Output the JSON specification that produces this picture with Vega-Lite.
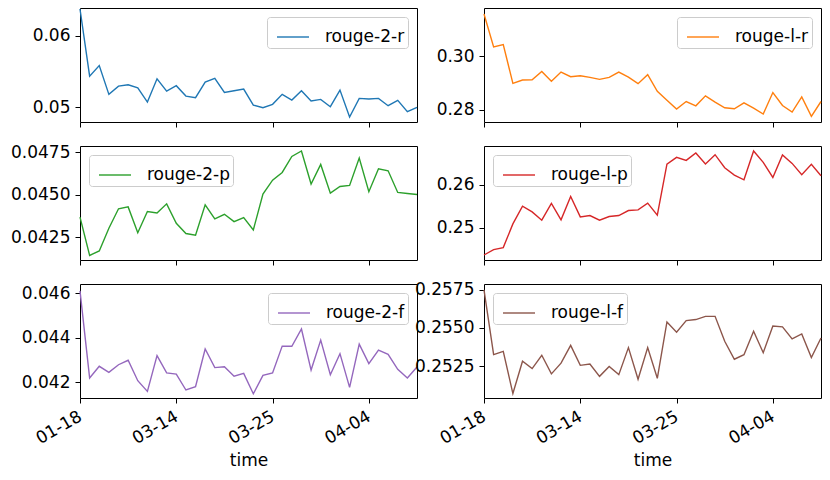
{
  "$schema": "https://vega.github.io/schema/vega-lite/v6.json",
  "autosize": "pad",
  "padding": {"left": 10, "top": 5, "right": 5, "bottom": 5},
  "background": "white",
  "bounds": "flush",
  "columns": 2,
  "spacing": {"row": 24, "column": 67},
  "data": {"values": [
    {"time": "01-18", "r2r": 0.0637, "rlr": 0.3158, "r2p": 0.04369, "rlp": 0.24359, "r2f": 0.04611, "rlf": 0.2575},
    {"time": "01-25", "r2r": 0.05435, "rlr": 0.30346, "r2p": 0.04145, "rlp": 0.24484, "r2f": 0.04218, "rlf": 0.25325},
    {"time": "02-01", "r2r": 0.05583, "rlr": 0.30432, "r2p": 0.04171, "rlp": 0.24531, "r2f": 0.04271, "rlf": 0.25347},
    {"time": "02-08", "r2r": 0.05181, "rlr": 0.28988, "r2p": 0.04304, "rlp": 0.25086, "r2f": 0.04244, "rlf": 0.2507},
    {"time": "02-15", "r2r": 0.05296, "rlr": 0.29111, "r2p": 0.04418, "rlp": 0.255, "r2f": 0.04278, "rlf": 0.25282},
    {"time": "02-22", "r2r": 0.05315, "rlr": 0.29123, "r2p": 0.04429, "rlp": 0.25367, "r2f": 0.04298, "rlf": 0.25234},
    {"time": "03-01", "r2r": 0.05273, "rlr": 0.29432, "r2p": 0.04278, "rlp": 0.25172, "r2f": 0.04206, "rlf": 0.25321},
    {"time": "03-05", "r2r": 0.05074, "rlr": 0.29062, "r2p": 0.04402, "rlp": 0.25563, "r2f": 0.04158, "rlf": 0.25199},
    {"time": "03-08", "r2r": 0.05398, "rlr": 0.29407, "r2p": 0.04394, "rlp": 0.2518, "r2f": 0.04319, "rlf": 0.25269},
    {"time": "03-11", "r2r": 0.05227, "rlr": 0.29235, "r2p": 0.04447, "rlp": 0.25727, "r2f": 0.04241, "rlf": 0.25386},
    {"time": "03-14", "r2r": 0.05301, "rlr": 0.29272, "r2p": 0.04333, "rlp": 0.2525, "r2f": 0.04236, "rlf": 0.25255},
    {"time": "03-15", "r2r": 0.05157, "rlr": 0.2921, "r2p": 0.04273, "rlp": 0.25281, "r2f": 0.04164, "rlf": 0.25264},
    {"time": "03-16", "r2r": 0.05134, "rlr": 0.29136, "r2p": 0.04263, "rlp": 0.25172, "r2f": 0.04179, "rlf": 0.25183},
    {"time": "03-17", "r2r": 0.05352, "rlr": 0.2921, "r2p": 0.04441, "rlp": 0.25258, "r2f": 0.04349, "rlf": 0.25247},
    {"time": "03-18", "r2r": 0.05403, "rlr": 0.29407, "r2p": 0.04359, "rlp": 0.25281, "r2f": 0.04265, "rlf": 0.25194},
    {"time": "03-19", "r2r": 0.05208, "rlr": 0.29222, "r2p": 0.04386, "rlp": 0.25398, "r2f": 0.04269, "rlf": 0.25371},
    {"time": "03-20", "r2r": 0.05231, "rlr": 0.28975, "r2p": 0.04343, "rlp": 0.25414, "r2f": 0.04226, "rlf": 0.25164},
    {"time": "03-21", "r2r": 0.05255, "rlr": 0.29309, "r2p": 0.04367, "rlp": 0.2557, "r2f": 0.04239, "rlf": 0.25371},
    {"time": "03-22", "r2r": 0.05032, "rlr": 0.2869, "r2p": 0.04294, "rlp": 0.25289, "r2f": 0.04147, "rlf": 0.2517},
    {"time": "03-23", "r2r": 0.04995, "rlr": 0.28358, "r2p": 0.04504, "rlp": 0.26484, "r2f": 0.0423, "rlf": 0.25539},
    {"time": "03-25", "r2r": 0.05042, "rlr": 0.28025, "r2p": 0.04586, "rlp": 0.26641, "r2f": 0.04241, "rlf": 0.25472},
    {"time": "03-26", "r2r": 0.05181, "rlr": 0.28309, "r2p": 0.04631, "rlp": 0.2657, "r2f": 0.04362, "rlf": 0.25548},
    {"time": "03-27", "r2r": 0.05102, "rlr": 0.28148, "r2p": 0.04725, "rlp": 0.26742, "r2f": 0.04361, "rlf": 0.25555},
    {"time": "03-28", "r2r": 0.05231, "rlr": 0.28519, "r2p": 0.04757, "rlp": 0.26484, "r2f": 0.04439, "rlf": 0.25576},
    {"time": "03-29", "r2r": 0.05088, "rlr": 0.28284, "r2p": 0.04563, "rlp": 0.26703, "r2f": 0.04254, "rlf": 0.25576},
    {"time": "03-30", "r2r": 0.05111, "rlr": 0.28074, "r2p": 0.04678, "rlp": 0.26398, "r2f": 0.04389, "rlf": 0.25413},
    {"time": "03-31", "r2r": 0.05009, "rlr": 0.28037, "r2p": 0.0451, "rlp": 0.26227, "r2f": 0.04233, "rlf": 0.25295},
    {"time": "04-01", "r2r": 0.05241, "rlr": 0.28259, "r2p": 0.04549, "rlp": 0.26117, "r2f": 0.04328, "rlf": 0.25325},
    {"time": "04-02", "r2r": 0.04866, "rlr": 0.28062, "r2p": 0.04555, "rlp": 0.26789, "r2f": 0.04176, "rlf": 0.25478},
    {"time": "04-03", "r2r": 0.05125, "rlr": 0.2784, "r2p": 0.04716, "rlp": 0.26523, "r2f": 0.04371, "rlf": 0.25338},
    {"time": "04-04", "r2r": 0.05116, "rlr": 0.28642, "r2p": 0.04518, "rlp": 0.26172, "r2f": 0.04283, "rlf": 0.25513},
    {"time": "04-05", "r2r": 0.05125, "rlr": 0.2816, "r2p": 0.04653, "rlp": 0.26695, "r2f": 0.04344, "rlf": 0.25507},
    {"time": "04-06", "r2r": 0.05023, "rlr": 0.27914, "r2p": 0.04641, "rlp": 0.265, "r2f": 0.04325, "rlf": 0.25428},
    {"time": "04-07", "r2r": 0.05097, "rlr": 0.28481, "r2p": 0.04514, "rlp": 0.26234, "r2f": 0.04257, "rlf": 0.25461},
    {"time": "04-08", "r2r": 0.0494, "rlr": 0.27753, "r2p": 0.04508, "rlp": 0.26477, "r2f": 0.04218, "rlf": 0.25306},
    {"time": "04-09", "r2r": 0.05, "rlr": 0.28309, "r2p": 0.04502, "rlp": 0.26211, "r2f": 0.04268, "rlf": 0.25434}
  ]},
  "resolve": {"scale": {"color": "independent", "y": "independent"}, "legend": {"color": "independent"}},
  "concat": [
    {
      "width": 337, "height": 114,
      "mark": {"type": "line", "strokeWidth": 1.4},
      "encoding": {
        "x": {"field": "time", "type": "ordinal", "scale": {"type": "point", "padding": 0}, "axis": {"values": ["01-18", "03-14", "03-25", "04-04"], "labels": false, "title": null}},
        "y": {"field": "r2r", "type": "quantitative", "scale": {"domain": [0.04796, 0.06384], "nice": false, "zero": false}, "axis": {"values": [0.05, 0.06], "format": ".2f", "title": null}},
        "color": {"datum": "rouge-2-r", "type": "nominal", "scale": {"range": ["#1f77b4"]}, "legend": {"title": null, "orient": "top-right"}}
      }
    },
    {
      "width": 337, "height": 114,
      "mark": {"type": "line", "strokeWidth": 1.4},
      "encoding": {
        "x": {"field": "time", "type": "ordinal", "scale": {"type": "point", "padding": 0}, "axis": {"values": ["01-18", "03-14", "03-25", "04-04"], "labels": false, "title": null}},
        "y": {"field": "rlr", "type": "quantitative", "scale": {"domain": [0.27543, 0.31802], "nice": false, "zero": false}, "axis": {"values": [0.28, 0.30], "format": ".2f", "title": null}},
        "color": {"datum": "rouge-l-r", "type": "nominal", "scale": {"range": ["#ff7f0e"]}, "legend": {"title": null, "orient": "top-right"}}
      }
    },
    {
      "width": 337, "height": 114,
      "mark": {"type": "line", "strokeWidth": 1.4},
      "encoding": {
        "x": {"field": "time", "type": "ordinal", "scale": {"type": "point", "padding": 0}, "axis": {"values": ["01-18", "03-14", "03-25", "04-04"], "labels": false, "title": null}},
        "y": {"field": "r2p", "type": "quantitative", "scale": {"domain": [0.04118, 0.04786], "nice": false, "zero": false}, "axis": {"values": [0.0425, 0.045, 0.0475], "format": ".4f", "title": null}},
        "color": {"datum": "rouge-2-p", "type": "nominal", "scale": {"range": ["#2ca02c"]}, "legend": {"title": null, "orient": "top-left"}}
      }
    },
    {
      "width": 337, "height": 114,
      "mark": {"type": "line", "strokeWidth": 1.4},
      "encoding": {
        "x": {"field": "time", "type": "ordinal", "scale": {"type": "point", "padding": 0}, "axis": {"values": ["01-18", "03-14", "03-25", "04-04"], "labels": false, "title": null}},
        "y": {"field": "rlp", "type": "quantitative", "scale": {"domain": [0.24242, 0.26906], "nice": false, "zero": false}, "axis": {"values": [0.25, 0.26], "format": ".2f", "title": null}},
        "color": {"datum": "rouge-l-p", "type": "nominal", "scale": {"range": ["#d62728"]}, "legend": {"title": null, "orient": "top-left"}}
      }
    },
    {
      "width": 337, "height": 114,
      "mark": {"type": "line", "strokeWidth": 1.4},
      "encoding": {
        "x": {"field": "time", "type": "ordinal", "scale": {"type": "point", "padding": 0}, "axis": {"values": ["01-18", "03-14", "03-25", "04-04"], "labelAngle": -30, "labelAlign": "right", "labelBaseline": "top", "labelOffset": -4, "labelPadding": 5, "title": "time", "titlePadding": 6}},
        "y": {"field": "r2f", "type": "quantitative", "scale": {"domain": [0.04128, 0.04642], "nice": false, "zero": false}, "axis": {"values": [0.042, 0.044, 0.046], "format": ".3f", "title": null}},
        "color": {"datum": "rouge-2-f", "type": "nominal", "scale": {"range": ["#9467bd"]}, "legend": {"title": null, "orient": "top-right"}}
      }
    },
    {
      "width": 337, "height": 114,
      "mark": {"type": "line", "strokeWidth": 1.4},
      "encoding": {
        "x": {"field": "time", "type": "ordinal", "scale": {"type": "point", "padding": 0}, "axis": {"values": ["01-18", "03-14", "03-25", "04-04"], "labelAngle": -30, "labelAlign": "right", "labelBaseline": "top", "labelOffset": -4, "labelPadding": 5, "title": "time", "titlePadding": 6}},
        "y": {"field": "rlf", "type": "quantitative", "scale": {"domain": [0.25041, 0.25788], "nice": false, "zero": false}, "axis": {"values": [0.2525, 0.255, 0.2575], "format": ".4f", "title": null}},
        "color": {"datum": "rouge-l-f", "type": "nominal", "scale": {"range": ["#8c564b"]}, "legend": {"title": null, "orient": "top-left"}}
      }
    }
  ],
  "config": {
    "font": "DejaVu Sans",
    "view": {"stroke": "black", "strokeWidth": 1},
    "axis": {
      "domain": false, "grid": false,
      "tickColor": "black", "tickSize": 5, "tickWidth": 1,
      "labelFont": "DejaVu Sans", "labelFontSize": 17, "labelColor": "black", "labelPadding": 5,
      "titleFont": "DejaVu Sans", "titleFontSize": 17, "titleFontWeight": "normal", "titleColor": "black"
    },
    "legend": {
      "padding": 3, "offset": 9, "fillColor": "white", "strokeColor": "#cccccc", "cornerRadius": 3,
      "symbolType": "stroke", "symbolSize": 1024, "symbolStrokeWidth": 1.4, "symbolOffset": 6,
      "labelFont": "DejaVu Sans", "labelFontSize": 17, "labelColor": "black", "labelOffset": 15,
      "labelExpr": "datum.label + ' '"
    }
  }
}
